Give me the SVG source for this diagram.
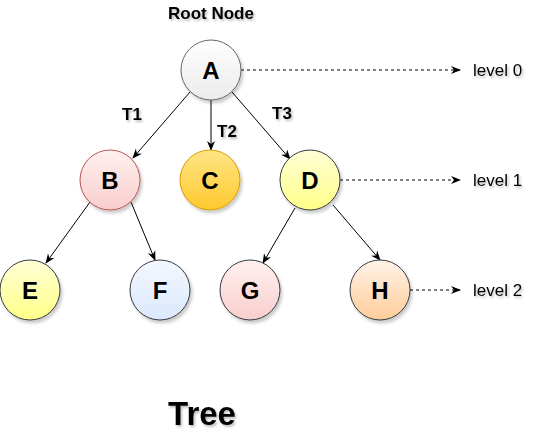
<svg xmlns="http://www.w3.org/2000/svg" width="547" height="441" viewBox="0 0 547 441">
<style>
text{font-family:"Liberation Sans",Arial,Helvetica,sans-serif;fill:#000}
.b{font-weight:bold}
.n{font-weight:bold;font-size:24px;text-anchor:middle}
.lv{font-size:17px}
.t{font-weight:bold;font-size:17px}
.e{stroke:#000;stroke-width:1;fill:none;marker-end:url(#ah)}
.d{stroke:#000;stroke-width:1;fill:none;stroke-dasharray:3 3;marker-end:url(#ah)}
.c{filter:url(#sh)}
</style>
<defs>
<marker id="ah" viewBox="0 0 10 10" refX="9" refY="5" markerWidth="10" markerHeight="10" markerUnits="userSpaceOnUse" orient="auto">
<path d="M0,1 L10,5 L0,9 L3,5 Z" fill="#000"/>
</marker>
<filter id="sh" x="-20%" y="-20%" width="150%" height="150%">
<feDropShadow dx="2" dy="3" stdDeviation="1.5" flood-color="#000" flood-opacity="0.2"/>
</filter>
<filter id="ts" x="-10%" y="-30%" width="130%" height="170%">
<feDropShadow dx="1.5" dy="2" stdDeviation="1.2" flood-color="#000" flood-opacity="0.25"/>
</filter>
<linearGradient id="gA" x1="0" y1="0" x2="0" y2="1"><stop offset="0" stop-color="#ffffff"/><stop offset="1" stop-color="#ebebeb"/></linearGradient>
<linearGradient id="gB" x1="0" y1="0" x2="0" y2="1"><stop offset="0" stop-color="#fff0f0"/><stop offset="1" stop-color="#f8cecc"/></linearGradient>
<linearGradient id="gC" x1="0" y1="0" x2="0" y2="1"><stop offset="0" stop-color="#ffe585"/><stop offset="1" stop-color="#ffc930"/></linearGradient>
<linearGradient id="gY" x1="0" y1="0" x2="0" y2="1"><stop offset="0" stop-color="#ffffd6"/><stop offset="1" stop-color="#ffff88"/></linearGradient>
<linearGradient id="gF" x1="0" y1="0" x2="0" y2="1"><stop offset="0" stop-color="#f4f8ff"/><stop offset="1" stop-color="#dae8fc"/></linearGradient>
<linearGradient id="gH" x1="0" y1="0" x2="0" y2="1"><stop offset="0" stop-color="#fff3e8"/><stop offset="1" stop-color="#ffcc99"/></linearGradient>
</defs>
<rect width="547" height="441" fill="#fff"/>

<g id="connectors">
<line class="e" x1="190" y1="92" x2="133" y2="158"/>
<line class="e" x1="211" y1="100" x2="211" y2="150"/>
<line class="e" x1="232" y1="92" x2="290" y2="159"/>
<line class="e" x1="90" y1="202" x2="46" y2="263"/>
<line class="e" x1="131" y1="202" x2="155" y2="260"/>
<line class="e" x1="295" y1="208" x2="263" y2="263"/>
<line class="e" x1="333" y1="205" x2="380" y2="260"/>
<line class="d" x1="241" y1="70" x2="460" y2="70"/>
<line class="d" x1="340" y1="180" x2="460" y2="180"/>
<line class="d" x1="410" y1="290" x2="460" y2="290"/>
</g>

<g id="node-A"><circle class="c" cx="211" cy="70" r="30" fill="url(#gA)" stroke="#666"/><text class="n" x="211" y="79">A</text></g>
<g id="node-B"><circle class="c" cx="110" cy="180" r="30" fill="url(#gB)" stroke="#b85450"/><text class="n" x="110" y="189">B</text></g>
<g id="node-C"><circle class="c" cx="210" cy="180" r="30" fill="url(#gC)" stroke="#d79b00"/><text class="n" x="210" y="189">C</text></g>
<g id="node-D"><circle class="c" cx="310" cy="180" r="30" fill="url(#gY)" stroke="#36393d"/><text class="n" x="310" y="189">D</text></g>
<g id="node-E"><circle class="c" cx="30" cy="290" r="30" fill="url(#gY)" stroke="#36393d"/><text class="n" x="30" y="299">E</text></g>
<g id="node-F"><circle class="c" cx="160" cy="290" r="30" fill="url(#gF)" stroke="#36393d"/><text class="n" x="160" y="299">F</text></g>
<g id="node-G"><circle class="c" cx="250" cy="290" r="30" fill="url(#gB)" stroke="#36393d"/><text class="n" x="250" y="299">G</text></g>
<g id="node-H"><circle class="c" cx="380" cy="290" r="30" fill="url(#gH)" stroke="#36393d"/><text class="n" x="380" y="299">H</text></g>

<g id="labels" filter="url(#ts)">
<text class="b" x="211" y="19" font-size="17" text-anchor="middle">Root Node</text>
<text class="t" x="122" y="120">T1</text>
<text class="t" x="217" y="137">T2</text>
<text class="t" x="272" y="119">T3</text>
<text class="lv" x="473" y="76">level 0</text>
<text class="lv" x="473" y="186">level 1</text>
<text class="lv" x="473" y="296">level 2</text>
<text class="b" x="202" y="425" font-size="33" text-anchor="middle">Tree</text>
</g>
</svg>
